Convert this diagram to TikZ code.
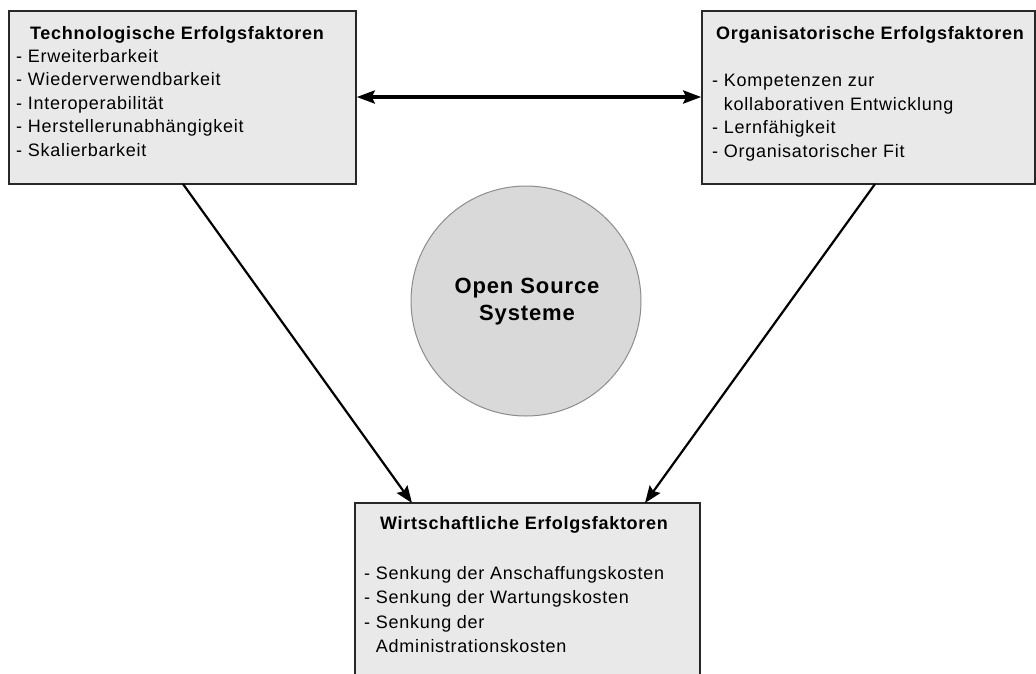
\documentclass[tikz,border=0pt]{standalone}
\usepackage{fontspec}
\setmainfont{Liberation Sans}[LetterSpace=4]
\usetikzlibrary{arrows.meta}
\definecolor{boxfill}{RGB}{233,233,233}
\definecolor{circfill}{RGB}{217,217,217}
\definecolor{circline}{RGB}{140,140,140}
\definecolor{boxline}{RGB}{40,40,40}
\tikzset{
  factorbox/.style={draw=boxline, line width=1.5pt, fill=boxfill, rectangle, inner sep=0pt},
  titletext/.style={font=\fontsize{18}{23.5}\selectfont\bfseries, inner sep=0pt, anchor=base},
  listtext/.style={font=\fontsize{18}{23.5}\selectfont, inner sep=0pt, align=left, anchor=north west},
  bigarrow/.style={line width=3.4pt, {Stealth[length=18pt,width=13pt,inset=3pt]}-{Stealth[length=18pt,width=13pt,inset=3pt]}},
  diagarrow/.style={line width=2.2pt, -{Stealth[length=17pt,width=13pt,inset=2.5pt]}},
}
\begin{document}
\begin{tikzpicture}[x=1pt,y=-1pt]
\useasboundingbox (0,0) rectangle (1036,673);
% boxes
\node[factorbox, minimum width=347pt, minimum height=173pt] (tech) at (182.5,97.5) {};
\node[factorbox, minimum width=333pt, minimum height=173pt] (org) at (868.5,97.5) {};
\node[factorbox, minimum width=345pt, minimum height=190pt] (wirt) at (527.5,598) {};
% circle
\node[circle, draw=circline, line width=1pt, fill=circfill, minimum size=230pt, inner sep=0pt] (oss) at (526,301) {};
\node[font=\fontsize{22}{27}\selectfont\bfseries, align=center, inner sep=0pt] (osstext) at (527,302) {Open Source\\Systeme};
% texts: technological
\node[titletext] (techtitle) at (177,39) {Technologische Erfolgsfaktoren};
\node[listtext] (techlist) at (16,49) {- Erweiterbarkeit\\- Wiederverwendbarkeit\\- Interoperabilität\\- Herstellerunabhängigkeit\\- Skalierbarkeit};
% texts: organisational
\node[titletext] (orgtitle) at (870,39) {Organisatorische Erfolgsfaktoren};
\node[listtext] (orglist) at (712,74) {- Kompetenzen zur\\\hphantom{- }kollaborativen Entwicklung\\- Lernfähigkeit\\- Organisatorischer Fit};
% texts: economic
\node[titletext] (wirttitle) at (524,529) {Wirtschaftliche Erfolgsfaktoren};
\node[listtext, font=\fontsize{18}{24.5}\selectfont] (wirtlist) at (364,566) {- Senkung der Anschaffungskosten\\- Senkung der Wartungskosten\\- Senkung der\\\hphantom{- }Administrationskosten};
% connectors
\draw[bigarrow] (tech.east |- 0,97) -- (org.west |- 0,97);
\coordinate (techout) at (183,184);
\coordinate (orgout) at (875,184);
\coordinate (wirtinL) at (412,503);
\coordinate (wirtinR) at (645,503);
\draw[diagarrow] (techout) -- (wirtinL);
\draw[diagarrow] (orgout) -- (wirtinR);
\end{tikzpicture}
\end{document}
